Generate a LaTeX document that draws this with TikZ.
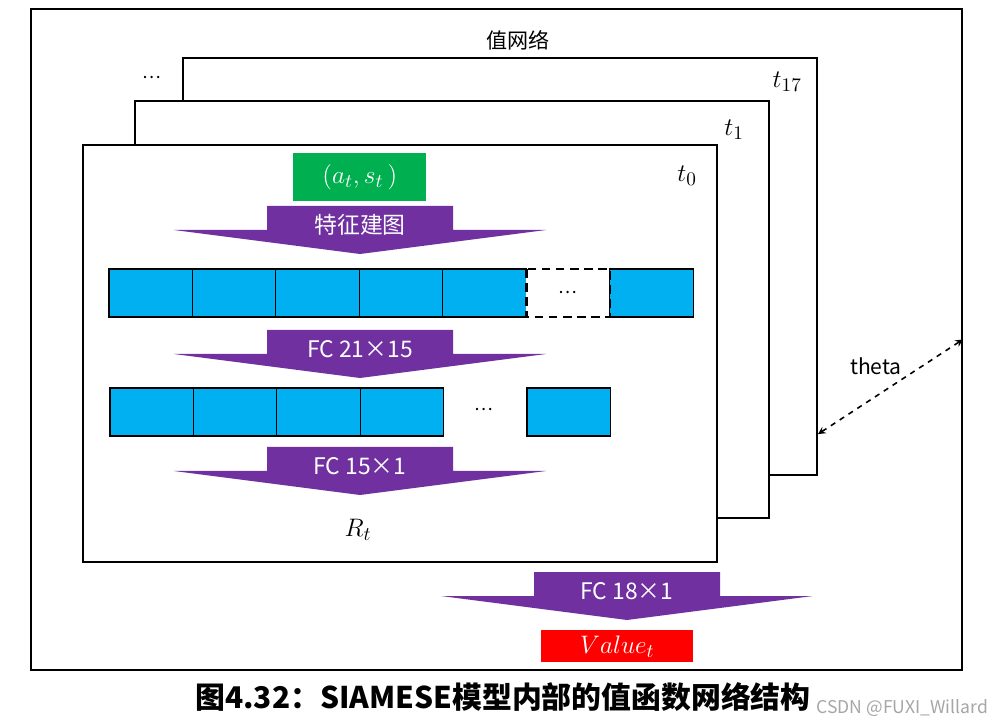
\documentclass[tikz,border=0pt]{standalone}
\usepackage{fontspec}
\setmainfont{Noto Sans CJK SC}
\usepackage{tikz}
\usetikzlibrary{positioning,calc,arrows}
\definecolor{netblue}{RGB}{0,176,240}
\definecolor{fcpurple}{RGB}{112,48,160}
\definecolor{ingreen}{RGB}{0,176,80}
\definecolor{outred}{RGB}{255,0,0}

% purple layer arrow: name, centre x, top y, label
\newcommand{\fcarrow}[4]{%
  \fill[fcpurple] ({#2-93},#3) -- ({#2+93},#3) -- ({#2+93},{#3+24}) -- ({#2+186},{#3+24})
    -- (#2,{#3+48}) -- ({#2-186},{#3+24}) -- ({#2-93},{#3+24}) -- cycle;
  \node[fclabel] (#1) at (#2,{#3+19}) {#4};
}

\begin{document}
\begin{tikzpicture}[
    x=0.02cm,y=-0.02cm,
    frame/.style={draw,line width=1.2pt,fill=white,anchor=north west,inner sep=0pt,
      minimum width=12.68cm,minimum height=8.34cm},
    cell/.style={draw,line width=0.6pt,fill=netblue,inner sep=0pt,outer sep=0pt,
      minimum width=1.67cm,minimum height=0.96cm},
    gapline/.style={dash pattern=on 5pt off 3pt,line width=1.4pt},
    fclabel/.style={text=white,font=\fontsize{13}{15}\selectfont},
    tlabel/.style={font=\fontsize{15}{17}\selectfont},
    arrow/.style={<->,>=stealth,dashed,line width=0.9pt}
  ]
  \useasboundingbox (0,0) rectangle (995,726);
  \node[draw,line width=1.2pt,anchor=north west,inner sep=0pt,
    minimum width=18.62cm,minimum height=13.22cm] (outer) at (30,8) {};
  \node[font=\fontsize{12}{14}\selectfont] (title) at (518,40) {值网络};

  % stacked time steps
  \node[frame] (f17) at (182,57) {};
  \node[tlabel,anchor=east] (l17) at (808,82) {$t_{17}$};
  \node (more) at (152,78) {\dots};
  \node[frame] (f1) at (134,100) {};
  \node[tlabel,anchor=east] (l1) at (750,130) {$t_{1}$};
  \node[frame] (f0) at (82,144) {};
  \node[tlabel,anchor=east] (l0) at (703,176) {$t_{0}$};

  % input
  \node[fill=ingreen,text=white,minimum width=2.66cm,minimum height=0.96cm,anchor=north west,
    inner sep=0pt,tlabel] (input) at (293,153) {$(a_t,s_t\,)$};
  \fcarrow{feat}{360}{206}{特征建图}

  % first layer
  \node[cell,anchor=north west] (c1) at (109,269) {};
  \foreach \i [count=\j from 2] in {1,...,4}
    \node[cell,right=0pt of c\i] (c\j) {};
  \node[cell,fill=white,draw=none,right=0pt of c5] (c6) {\dots};
  \node[cell,right=0pt of c6] (c7) {};
  \draw[gapline] (c6.north west) rectangle (c6.south east);
  \fcarrow{fca}{360}{330}{FC 21×15}

  % second layer
  \node[cell,anchor=north west] (d1) at (110,388) {};
  \foreach \i [count=\j from 2] in {1,...,3}
    \node[cell,right=0pt of d\i] (d\j) {};
  \node (dots2) at (484,410) {\dots};
  \node[cell,anchor=north west] (d5) at (527,388) {};
  \fcarrow{fcb}{360}{447}{FC 15×1}
  \node[tlabel] (rt) at (358,530) {$R_t$};

  % output
  \fcarrow{fcc}{627}{572}{FC 18×1}
  \node[fill=outred,text=white,minimum width=3.04cm,minimum height=0.64cm,anchor=north west,
    inner sep=0pt,tlabel] (value) at (541,630) {$Value_t$};

  % shared parameters
  \coordinate (thA) at ($(f17.south east)!0.1!(f17.north east)$);
  \coordinate (thB) at ($(outer.south east)!0.5!(outer.north east)$);
  \draw[arrow] (thA) -- (thB);
  \node[font=\fontsize{12}{14}\selectfont] (theta) at (876,366) {theta};

  \node[font=\fontsize{17}{20}\selectfont\bfseries] (caption) at (503,697) {图4.32：SIAMESE模型内部的值函数网络结构};
  \node[text=black!35,font=\fontsize{10}{12}\selectfont,anchor=east,inner sep=1pt] (mark) at (990,708) {CSDN @FUXI\_Willard};
\end{tikzpicture}
\end{document}
